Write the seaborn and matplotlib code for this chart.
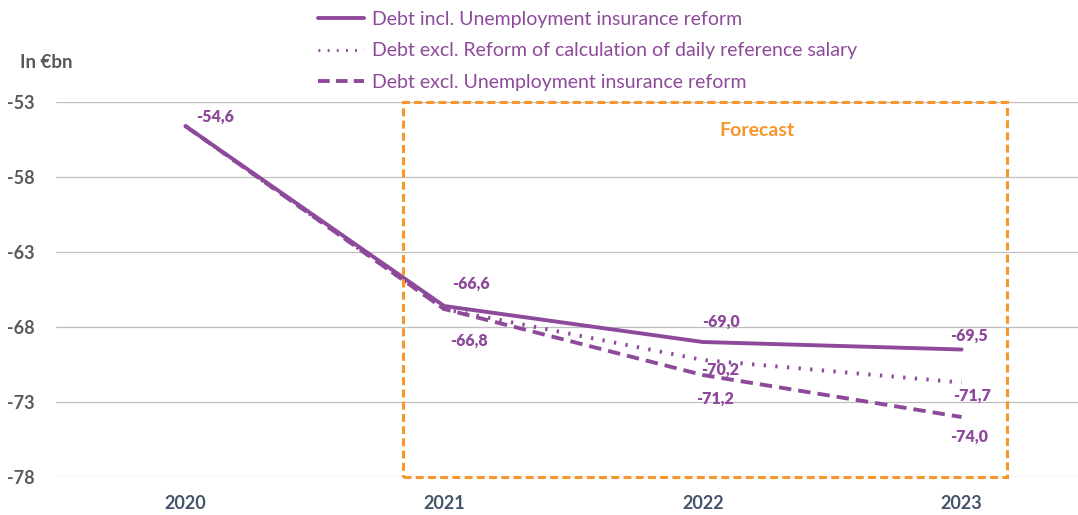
import matplotlib
matplotlib.use("Agg")
import matplotlib.pyplot as plt
import seaborn as sns
import pandas as pd
from matplotlib.patches import Rectangle
from matplotlib.lines import Line2D

years = ["2020", "2021", "2022", "2023"]
series_names = [
    "Debt incl. Unemployment insurance reform",
    "Debt excl. Reform of calculation of daily reference salary",
    "Debt excl. Unemployment insurance reform",
]
debt_incl = [-54.6, -66.6, -69.0, -69.5]
debt_excl_salary = [-54.6, -66.8, -70.2, -71.7]
debt_excl_reform = [-54.6, -66.8, -71.2, -74.0]
y_ticks = [-53, -58, -63, -68, -73, -78]
forecast_label = "Forecast"
unit_label = "In €bn"

PURPLE = "#8E4A9A"
ORANGE = "#F7962B"
GRID = "#BFBFBF"

sns.set_theme(style="white")
plt.rcParams["font.family"] = ["Lato", "DejaVu Sans"]

rows = []
for name, vals in zip(series_names, [debt_incl, debt_excl_salary, debt_excl_reform]):
    for i, v in enumerate(vals):
        rows.append({"x": i, "value": v, "series": name})
df = pd.DataFrame(rows)

fig = plt.figure(figsize=(10.78, 5.15), dpi=100)
ax = fig.add_axes([56 / 1078, 1 - 477 / 515, 1 - 56 / 1078, (477 - 102) / 515])

dash_map = {
    series_names[0]: "",
    series_names[1]: (0.6, 2.4),
    series_names[2]: (3.2, 1.8),
}
sns.lineplot(data=df, x="x", y="value", style="series", dashes=dash_map,
             color=PURPLE, linewidth=2.8, ax=ax, legend=False, zorder=3)

ax.set_xlim(-0.5, 3.45)
ax.set_ylim(-78, -53)
ax.set_yticks(y_ticks)
ax.set_yticklabels([str(t) for t in y_ticks], fontsize=13, fontweight="bold", color="#595959")
ax.set_xticks(range(len(years)))
ax.set_xticklabels(years, fontsize=13, fontweight="bold", color="#44546A")
ax.tick_params(axis="x", pad=13, length=0)
ax.tick_params(axis="y", pad=35, length=0)
for lbl in ax.get_yticklabels():
    lbl.set_horizontalalignment("left")
ax.set_xlabel("")
ax.set_ylabel("")
ax.grid(axis="y", color=GRID, linewidth=0.9)
ax.grid(axis="x", visible=False)
for s in ax.spines.values():
    s.set_visible(False)

# Forecast box
box = Rectangle((0.84, -78), 3.175 - 0.84, 25, fill=False, edgecolor=ORANGE,
                linestyle=(0, (2.6, 1.4)), linewidth=2.2, clip_on=False, zorder=4)
ax.add_patch(box)
ax.text(2.21, -54.9, forecast_label, color=ORANGE, fontsize=14, fontweight="bold",
        ha="center", va="center")

# Data labels
def lab(x, y, text, dx, dy):
    ax.annotate(text, (x, y), xytext=(dx, -dy), textcoords="offset pixels",
                ha="center", va="center", fontsize=11.5, fontweight="heavy",
                color=PURPLE, zorder=5)

fmt = lambda v: f"{v:.1f}".replace(".", ",")
lab(0, debt_incl[0], fmt(debt_incl[0]), 30, -9)
lab(1, debt_incl[1], fmt(debt_incl[1]), 27, -22)
lab(1, debt_excl_reform[1], fmt(debt_excl_reform[1]), 25, 32)
lab(2, debt_incl[2], fmt(debt_incl[2]), 18, -20)
lab(2, debt_excl_salary[2], fmt(debt_excl_salary[2]), 17, 10)
lab(2, debt_excl_reform[2], fmt(debt_excl_reform[2]), 12, 24)
lab(3, debt_incl[3], fmt(debt_incl[3]), 7, -14)
lab(3, debt_excl_salary[3], fmt(debt_excl_salary[3]), 10, 13)
lab(3, debt_excl_reform[3], fmt(debt_excl_reform[3]), 8, 20)

fig.text(20 / 1078, 1 - 63 / 515, unit_label, fontsize=13.5, fontweight="bold",
         color="#595959", ha="left", va="center")

handles = [
    Line2D([], [], color=PURPLE, linewidth=2.8, linestyle="-"),
    Line2D([], [], color=PURPLE, linewidth=2.2, linestyle=(0, (0.6, 2.4))),
    Line2D([], [], color=PURPLE, linewidth=2.8, linestyle=(0, (3.0, 1.6))),
]
leg = fig.legend(handles, series_names, loc="upper left",
                 bbox_to_anchor=(310 / 1078, 1 - 3 / 515), frameon=False,
                 fontsize=14.0, handlelength=2.4, handletextpad=0.4,
                 labelspacing=0.75, borderaxespad=0)
for t in leg.get_texts():
    t.set_color(PURPLE)

fig.savefig("out.png", dpi=100)
